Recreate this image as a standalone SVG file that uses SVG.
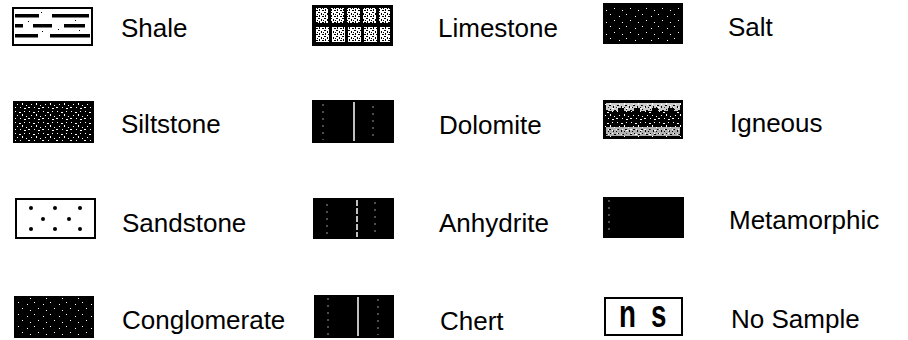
<svg xmlns="http://www.w3.org/2000/svg" width="908" height="340" viewBox="0 0 908 340">
<defs>
<style>
.lbl{font-family:"Liberation Sans",Arial,sans-serif;font-size:26px;fill:#000}
.box{stroke:#000;stroke-width:2}
.wht{fill:#fff}
.blk{fill:#000}
.vl{stroke:#fff;stroke-width:1.5}
.vd{stroke:#fff;stroke-width:1;stroke-dasharray:2 5;opacity:0.6}
.dash{fill:#000}
</style>
<pattern id="speckDense" width="14" height="11" patternUnits="userSpaceOnUse">
<rect width="14" height="11" fill="#000"/>
<rect x="1" y="1" width="1" height="1" fill="#fff"/>
<rect x="5" y="2" width="2" height="1" fill="#fff"/>
<rect x="10" y="1" width="1" height="1" fill="#fff"/>
<rect x="3" y="5" width="1" height="1" fill="#fff"/>
<rect x="8" y="4" width="1" height="2" fill="#fff"/>
<rect x="12" y="6" width="1" height="1" fill="#fff"/>
<rect x="0" y="8" width="2" height="1" fill="#fff"/>
<rect x="6" y="8" width="1" height="1" fill="#fff"/>
<rect x="10" y="9" width="2" height="1" fill="#fff"/>
</pattern>
<pattern id="speckSparse" width="16" height="12" patternUnits="userSpaceOnUse">
<rect width="16" height="12" fill="#000"/>
<rect x="2" y="2" width="1" height="1" fill="#fff"/>
<rect x="11" y="4" width="1" height="1" fill="#fff"/>
<rect x="6" y="8" width="1" height="1" fill="#fff"/>
<rect x="14" y="10" width="1" height="1" fill="#fff"/>
</pattern>
<pattern id="speckLight" width="8" height="8" patternUnits="userSpaceOnUse">
<rect width="8" height="8" fill="#fff"/>
<rect x="1" y="1" width="2" height="1" fill="#000"/>
<rect x="5" y="2" width="1" height="2" fill="#000"/>
<rect x="2" y="5" width="1" height="1" fill="#000"/>
<rect x="6" y="6" width="2" height="1" fill="#000"/>
<rect x="0" y="3" width="1" height="1" fill="#000"/>
</pattern>
<pattern id="speckMid" width="6" height="6" patternUnits="userSpaceOnUse">
<rect width="6" height="6" fill="#fff"/>
<rect x="0" y="0" width="2" height="1" fill="#000"/>
<rect x="3" y="1" width="1" height="2" fill="#000"/>
<rect x="1" y="3" width="1" height="2" fill="#000"/>
<rect x="4" y="4" width="2" height="1" fill="#000"/>
<rect x="5" y="2" width="1" height="1" fill="#000"/>
</pattern>
</defs>

<g id="shale">
<rect class="box wht" x="13" y="8" width="79" height="37"/>
<rect class="dash" x="15" y="14" width="24" height="3.5"/>
<rect class="dash" x="52" y="14" width="37" height="3.5"/>
<rect class="dash" x="15" y="24" width="8" height="3.5"/>
<rect class="dash" x="33" y="24" width="19" height="3.5"/>
<rect class="dash" x="64" y="24" width="21" height="3.5"/>
<rect class="dash" x="15" y="34" width="23" height="3.5"/>
<rect class="dash" x="50" y="34" width="40" height="3.5"/>
<rect class="blk" x="41" y="12" width="1" height="1"/>
<rect class="blk" x="75" y="20" width="1" height="1"/>
<rect class="blk" x="28" y="21" width="1" height="1"/>
<rect class="blk" x="58" y="29" width="1" height="1"/>
<rect class="blk" x="42" y="31" width="1" height="1"/>
<rect class="blk" x="79" y="30" width="1" height="1"/>
<text class="lbl" x="121" y="37">Shale</text>
</g>

<g id="limestone">
<rect class="box blk" x="313" y="6" width="79" height="39"/>
<rect x="316" y="8" width="12" height="15" fill="url(#speckMid)"/>
<rect x="331" y="8" width="13" height="15" fill="url(#speckMid)"/>
<rect x="347" y="8" width="13" height="15" fill="url(#speckMid)"/>
<rect x="363" y="8" width="13" height="15" fill="url(#speckMid)"/>
<rect x="379" y="8" width="11" height="15" fill="url(#speckMid)"/>
<rect x="316" y="27" width="13" height="15" fill="url(#speckMid)"/>
<rect x="332" y="27" width="13" height="15" fill="url(#speckMid)"/>
<rect x="348" y="27" width="13" height="15" fill="url(#speckMid)"/>
<rect x="364" y="27" width="13" height="15" fill="url(#speckMid)"/>
<rect x="380" y="27" width="10" height="15" fill="url(#speckMid)"/>
<text class="lbl" x="438" y="37">Limestone</text>
</g>

<g id="salt">
<rect class="box" x="604" y="4" width="78" height="39" fill="url(#speckSparse)"/>
<text class="lbl" x="728" y="36">Salt</text>
</g>

<g id="siltstone">
<rect class="box" x="14" y="102" width="79" height="40" fill="url(#speckDense)"/>
<text class="lbl" x="121" y="133">Siltstone</text>
</g>

<g id="dolomite">
<rect class="box blk" x="313" y="101" width="80" height="41"/>
<line class="vl" x1="354" y1="102" x2="354" y2="141"/>
<line class="vd" x1="323" y1="104" x2="323" y2="140"/>
<line class="vd" x1="373" y1="106" x2="373" y2="140"/>
<text class="lbl" x="439" y="134">Dolomite</text>
</g>

<g id="igneous">
<rect class="box" x="604" y="101" width="78" height="37" fill="url(#speckDense)"/>
<rect x="606" y="103" width="74" height="8" fill="url(#speckLight)" opacity="0.8"/>
<rect x="606" y="127" width="74" height="9" fill="url(#speckLight)" opacity="0.7"/>
<rect class="blk" x="618" y="108" width="6" height="7"/>
<rect class="blk" x="634" y="108" width="6" height="7"/>
<rect class="blk" x="652" y="108" width="6" height="7"/>
<rect class="blk" x="668" y="108" width="6" height="7"/>
<text class="lbl" x="730" y="132">Igneous</text>
</g>

<g id="sandstone">
<rect class="box wht" x="16" y="199" width="79" height="39"/>
<circle class="blk" cx="31" cy="208" r="2"/>
<circle class="blk" cx="55" cy="208" r="2"/>
<circle class="blk" cx="80" cy="208" r="2"/>
<circle class="blk" cx="43" cy="219" r="2"/>
<circle class="blk" cx="69" cy="219" r="2"/>
<circle class="blk" cx="31" cy="229" r="2"/>
<circle class="blk" cx="55" cy="229" r="2"/>
<circle class="blk" cx="80" cy="229" r="2"/>
<text class="lbl" x="122" y="232">Sandstone</text>
</g>

<g id="anhydrite">
<rect class="box blk" x="314" y="199" width="79" height="39"/>
<line class="vd" x1="327" y1="204" x2="327" y2="236"/>
<line class="vl" x1="357" y1="200" x2="357" y2="237" stroke-dasharray="6 2"/>
<line class="vd" x1="375" y1="202" x2="375" y2="236"/>
<text class="lbl" x="439" y="232">Anhydrite</text>
</g>

<g id="metamorphic">
<rect class="box blk" x="604" y="198" width="79" height="39"/>
<line class="vd" x1="609" y1="200" x2="609" y2="235" stroke-dasharray="8 2"/>
<text class="lbl" x="729" y="229">Metamorphic</text>
</g>

<g id="conglomerate">
<rect class="box" x="15" y="297" width="78" height="40" fill="url(#speckSparse)"/>
<text class="lbl" x="122" y="329">Conglomerate</text>
</g>

<g id="chert">
<rect class="box blk" x="315" y="296" width="78" height="41"/>
<line class="vd" x1="328" y1="298" x2="328" y2="335"/>
<line class="vl" x1="358" y1="297" x2="358" y2="336"/>
<line class="vd" x1="378" y1="299" x2="378" y2="335"/>
<text class="lbl" x="440" y="330">Chert</text>
</g>

<g id="nosample">
<rect class="box wht" x="605" y="298" width="77" height="37"/>
<text x="0" y="0" transform="translate(619,327) scale(0.75,1.05)" font-family="Liberation Sans,Arial,sans-serif" font-weight="bold" font-size="37" letter-spacing="20">ns</text>
<text class="lbl" x="731" y="328">No Sample</text>
</g>
</svg>
